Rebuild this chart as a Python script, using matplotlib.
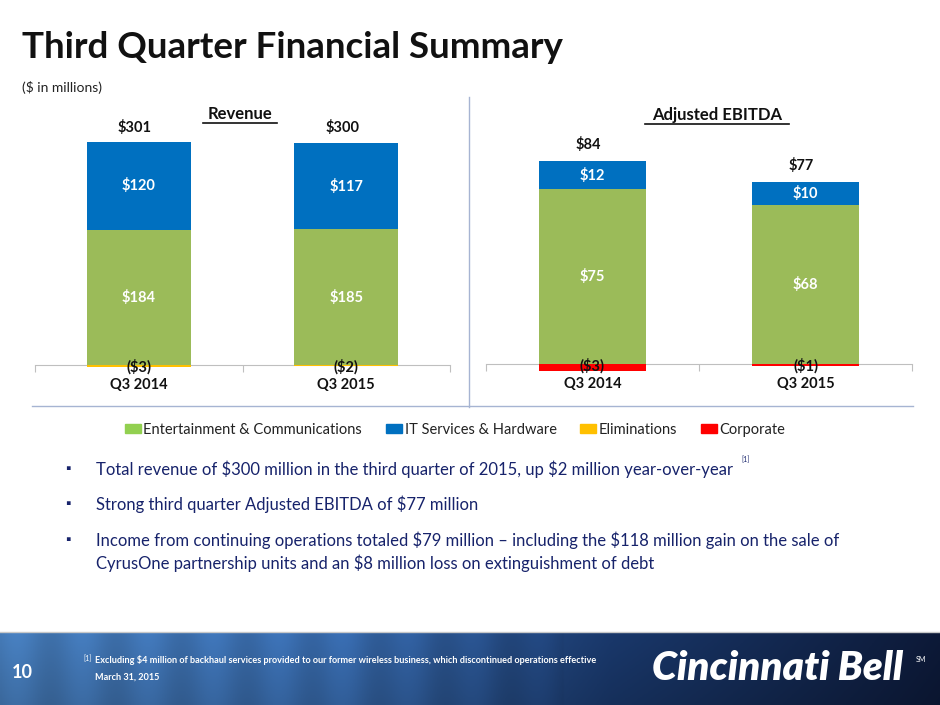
import numpy as np
import matplotlib.pyplot as plt
from matplotlib.patches import Patch

plt.rcParams['font.family'] = ['Lato', 'DejaVu Sans']
plt.rcParams['text.parse_math'] = False

W, H = 940, 705

# data
categories = ['Q3 2014', 'Q3 2015']
rev_ec = [184, 185]
rev_it = [120, 117]
rev_elim = [-3, -2]
rev_total = [301, 300]
ebitda_ec = [75, 68]
ebitda_it = [12, 10]
ebitda_corp = [-3, -1]
ebitda_total = [84, 77]

c_green = '#9BBB59'
c_green_leg = '#92D050'
c_blue = '#0070C0'
c_yellow = '#FFC000'
c_red = '#FF0000'
navy = '#17236B'


def box(x0, y0, x1, y1):
    # pixel box (top-left origin) -> figure fraction rect
    return [x0 / W, 1 - y1 / H, (x1 - x0) / W, (y1 - y0) / H]


fig = plt.figure(figsize=(9.4, 7.05), dpi=100)

fig.text(22 / W, 1 - 48 / H, 'Third Quarter Financial Summary', fontsize=26.5,
         fontweight='bold', color='#111111', va='center', ha='left')
fig.text(22 / W, 1 - 87 / H, '($ in millions)', fontsize=10, color='#222222',
         va='center', ha='left')


def stacked(ax, ec, it, neg, neg_color, px_per_unit, base_px, top_px, bot_px):
    x = np.arange(len(categories))
    ax.bar(x, ec, width=0.5, color=c_green, zorder=3)
    ax.bar(x, it, width=0.5, bottom=ec, color=c_blue, zorder=3)
    ax.bar(x, neg, width=0.5, color=neg_color, zorder=3)
    ax.set_xlim(-0.5, 1.5)
    ax.set_ylim(-(bot_px - base_px) / px_per_unit, (base_px - top_px) / px_per_unit)
    for s in ['top', 'right', 'left']:
        ax.spines[s].set_visible(False)
    ax.spines['bottom'].set_position(('data', 0))
    ax.spines['bottom'].set_color('#BFBFBF')
    ax.set_yticks([])
    ax.set_xticks([-0.5, 0.5, 1.5])
    ax.set_xticklabels([])
    ax.tick_params(axis='x', length=5, color='#BFBFBF', direction='out')
    for i in x:
        ax.text(i, ec[i] / 2, f'${ec[i]}', color='white', fontsize=10.5,
                fontweight='bold', ha='center', va='center', zorder=4)
        ax.text(i, ec[i] + it[i] / 2, f'${it[i]}', color='white', fontsize=10.5,
                fontweight='bold', ha='center', va='center', zorder=4)
        ax.text(i, -2.0 / px_per_unit, f'(${-neg[i]})', color='#111111', fontsize=10.5,
                fontweight='bold', ha='center', va='center', zorder=4)
        ax.text(i, -20.0 / px_per_unit, categories[i], color='#111111', fontsize=10.5,
                fontweight='bold', ha='center', va='center')
    return x


# Revenue
ax1 = fig.add_axes(box(35, 100, 450, 400))
x = stacked(ax1, rev_ec, rev_it, rev_elim, c_yellow, 0.734, 365, 100, 400)
for i in x:
    ax1.text(x[i] - 0.02, (365 - 127) / 0.734, f'${rev_total[i]}', fontsize=10.5,
             fontweight='bold', ha='center', va='center', color='#111111')
fig.text(240 / W, 1 - 114 / H, 'Revenue', fontsize=12, fontweight='bold',
         ha='center', va='center', color='#111111')
fig.add_artist(plt.Line2D([203 / W, 277 / W], [1 - 123 / H] * 2, color='#111111', lw=1.2))

# Adjusted EBITDA
ax2 = fig.add_axes(box(486, 100, 912, 400))
x = stacked(ax2, ebitda_ec, ebitda_it, ebitda_corp, c_red, 2.333, 364, 100, 400)
for i in x:
    top = ebitda_ec[i] + ebitda_it[i]
    ax2.text(x[i] - 0.02, top + 17 / 2.333, f'${ebitda_total[i]}', fontsize=10.5,
             fontweight='bold', ha='center', va='center', color='#111111')
fig.text(717 / W, 1 - 115 / H, 'Adjusted EBITDA', fontsize=12, fontweight='bold',
         ha='center', va='center', color='#111111')
fig.add_artist(plt.Line2D([645 / W, 789 / W], [1 - 124 / H] * 2, color='#111111', lw=1.2))

# divider lines
fig.add_artist(plt.Line2D([469 / W] * 2, [1 - 97 / H, 1 - 407 / H], color='#A6B4D2', lw=1))
fig.add_artist(plt.Line2D([32 / W, 913 / W], [1 - 406 / H] * 2, color='#A6B4D2', lw=1))

# legend
handles = [Patch(color=c_green_leg, label='Entertainment & Communications'),
           Patch(color=c_blue, label='IT Services & Hardware'),
           Patch(color=c_yellow, label='Eliminations'),
           Patch(color=c_red, label='Corporate')]
fig.legend(handles=handles, loc='center', bbox_to_anchor=(455 / W, 1 - 430 / H), ncol=4,
           frameon=False, fontsize=10.5, handlelength=1.1, handleheight=0.6,
           handletextpad=0.2, columnspacing=1.6, labelcolor='#222222')

# bullets
bullets = [(469, 'Total revenue of $300 million in the third quarter of 2015, up $2 million year-over-year'),
           (504, 'Strong third quarter Adjusted EBITDA of $77 million'),
           (540, 'Income from continuing operations totaled $79 million \u2013 including the $118 million gain on the sale of')]
for y, t in bullets:
    fig.text(68 / W, 1 - y / H, '\u25aa', fontsize=10, color=navy, va='center', ha='center')
    fig.text(96 / W, 1 - y / H, t, fontsize=12, color=navy, va='center', ha='left')
fig.text(96 / W, 1 - 563 / H, 'CyrusOne partnership units and an $8 million loss on extinguishment of debt',
         fontsize=12, color=navy, va='center', ha='left')
fig.text(741 / W, 1 - 460 / H, '[1]', fontsize=5, color=navy, va='center', ha='left')

# footer band
fax = fig.add_axes(box(0, 632, 940, 705))
xs = np.linspace(0, 1, 400)
r = np.interp(xs, [0, 0.35, 0.65, 1], [0.27, 0.22, 0.10, 0.05])
g = np.interp(xs, [0, 0.35, 0.65, 1], [0.48, 0.42, 0.22, 0.10])
b = np.interp(xs, [0, 0.35, 0.65, 1], [0.72, 0.68, 0.42, 0.22])
streak = 1 + 0.06 * np.sin(xs * 90) * (xs < 0.6)
grad = np.stack([r * streak, g * streak, b * streak], axis=-1).clip(0, 1)
grad = np.repeat(grad[None, :, :], 20, axis=0)
vert = np.linspace(1.0, 0.85, 20)[:, None, None]
fax.imshow(grad * vert, aspect='auto', extent=[0, 1, 0, 1])
fax.set_axis_off()
fig.add_artist(plt.Line2D([0, 1], [1 - 632 / H] * 2, color='#C8C8C8', lw=1))

fig.text(22 / W, 1 - 672 / H, '10', fontsize=13, fontweight='bold', color='white',
         va='center', ha='center')
fig.text(83 / W, 1 - 659 / H, '[1]', fontsize=5, color='white', va='center', ha='left')
fig.text(95 / W, 1 - 660 / H,
         'Excluding $4 million of backhaul services provided to our former wireless business, which discontinued operations effective',
         fontsize=6.6, fontweight='bold', color='white', va='center', ha='left')
fig.text(95 / W, 1 - 677 / H, 'March 31, 2015', fontsize=6.6, fontweight='bold',
         color='white', va='center', ha='left')
fig.text(652 / W, 1 - 669 / H, 'Cincinnati Bell', fontsize=29, fontweight='heavy',
         fontstyle='italic', color='white', va='center', ha='left')
fig.text(916 / W, 1 - 659 / H, 'SM', fontsize=5, color='white', va='center', ha='left')

fig.savefig('out.png', dpi=100)
